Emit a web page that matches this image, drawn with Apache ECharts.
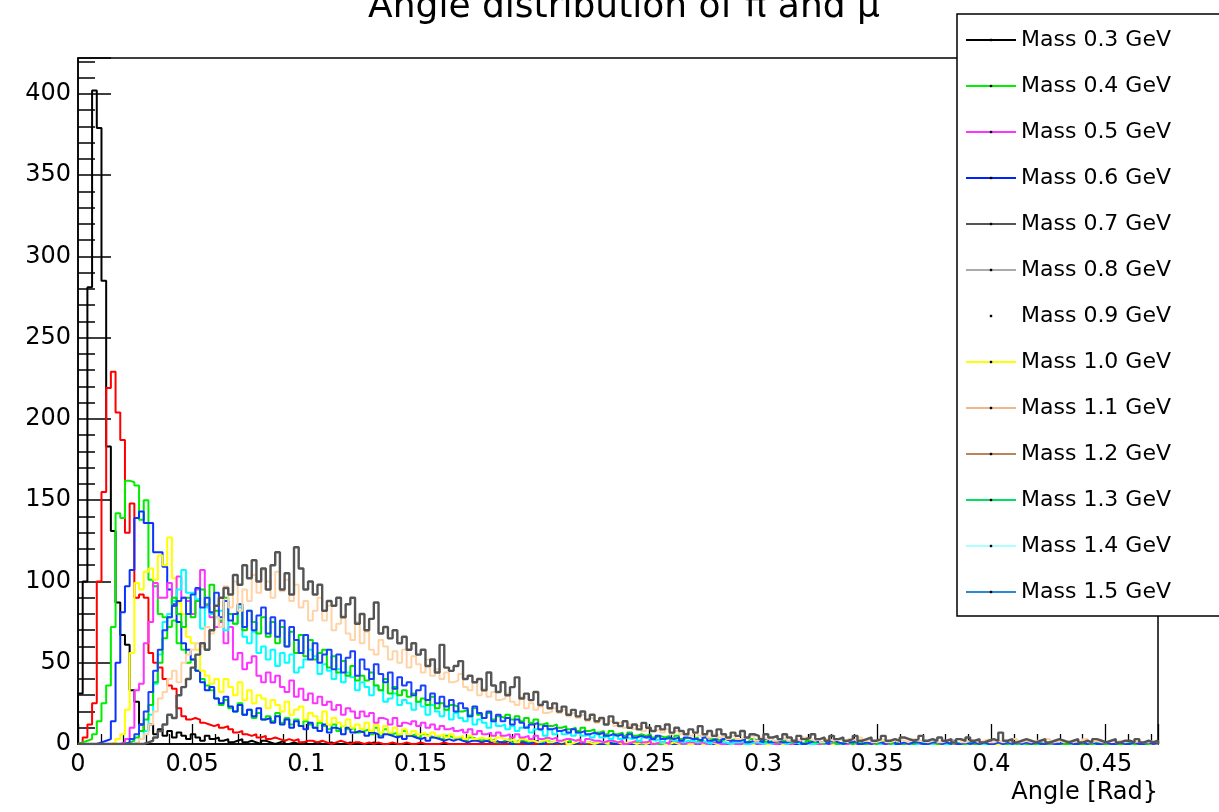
<!DOCTYPE html>
<html>
<head>
<meta charset="utf-8">
<script src="https://cdn.jsdelivr.net/npm/echarts@6/dist/echarts.min.js"></script>
<style>
html,body{margin:0;padding:0;background:#fff;}
#chart{width:1219px;height:812px;}
</style>
</head>
<body>
<div id="chart"></div>
<script>
// ---- data ----
const titleText = 'Angle distribution of \u03c0 and \u03bc';
const xAxisName = 'Angle [Rad}';
const nBins = 230;
const xMax = 0.473;
const yMax = 422;

const legendNames = ['Mass 0.3 GeV','Mass 0.4 GeV','Mass 0.5 GeV','Mass 0.6 GeV','Mass 0.7 GeV','Mass 0.8 GeV','Mass 0.9 GeV','Mass 1.0 GeV','Mass 1.1 GeV','Mass 1.2 GeV','Mass 1.3 GeV','Mass 1.4 GeV','Mass 1.5 GeV'];
const legendColors = ['#000000','#00ee00','#ff33ff','#0022ff','#555555','#aaaaaa','#ffffff','#ffff00','#f0b888','#b8865a','#00e060','#aaffff','#2a8ad0'];

const hBlack = [31,100,281,402,379,285,183,131,87,67,
61,33,26,12,8,12,6,9,5,8,
4,7,5,3,6,4,2,5,3,4,
2,3,1,2,3,1,2,1,0,2,
1,0,1,2,0,1,0,1,0,0,
1,0,0,1,0,0,0,1,0,0,
0,0,1,0,0,0,0,0,0,0,
0,0,0,0,0,0,0,0,0,0,
0,0,0,0,0,0,0,0,0,0,
0,0,0,0,0,0,0,0,0,0,
0,0,0,0,0,0,0,0,0,0,
0,0,0,0,0,0,0,0,0,0,
0,0,0,0,0,0,0,0,0,0,
0,0,0,0,0,0,0,0,0,0,
0,0,0,0,0,0,0,0,0,0,
0,0,0,0,0,0,0,0,0,0,
0,0,0,0,0,0,0,0,0,0,
0,0,0,0,0,0,0,0,0,0,
0,0,0,0,0,0,0,0,0,0,
0,0,0,0,0,0,0,0,0,0,
0,0,0,0,0,0,0,0,0,0,
0,0,0,0,0,0,0,0,0,0,
0,0,0,0,0,0,0,0,0,0];

const hRed = [1,4,12,25,100,155,219,229,204,187,
130,148,90,92,90,56,50,47,40,36,
34,22,17,15,16,15,13,12,11,12,
10,11,9,7,8,6,5,6,4,5,
3,4,3,2,3,2,3,1,2,2,
1,2,1,0,1,2,1,0,1,1,
0,1,0,1,0,0,1,0,0,1,
0,0,1,0,0,0,0,1,0,0,
0,0,0,0,0,0,0,0,0,0,
0,0,0,0,0,0,0,0,0,0,
0,0,0,0,0,0,0,0,0,0,
0,0,0,0,0,0,0,0,0,0,
0,0,0,0,0,0,0,0,0,0,
0,0,0,0,0,0,0,0,0,0,
0,0,0,0,0,0,0,0,0,0,
0,0,0,0,0,0,0,0,0,0,
0,0,0,0,0,0,0,0,0,0,
0,0,0,0,0,0,0,0,0,0,
0,0,0,0,0,0,0,0,0,0,
0,0,0,0,0,0,0,0,0,0,
0,0,0,0,0,0,0,0,0,0,
0,0,0,0,0,0,0,0,0,0,
0,0,0,0,0,0,0,0,0,0];

const hGreen1 = [1,2,3,6,14,25,36,72,142,139,
162,161,159,138,150,101,97,80,78,72,
76,62,58,50,52,45,40,36,33,28,
24,27,22,20,25,18,21,16,19,15,
17,14,19,13,16,12,15,11,14,12,
10,13,11,9,12,8,11,9,10,7,
8,9,6,10,5,9,6,7,5,8,
5,6,4,6,5,4,5,3,5,4,
3,4,2,4,3,2,3,2,3,1,
2,3,1,2,2,1,2,1,0,2,
1,1,0,1,2,0,1,0,1,0,
1,0,0,1,0,1,0,0,1,0,
0,1,0,0,0,1,0,0,0,0,
0,0,1,0,0,0,0,0,1,0,
0,0,0,0,0,1,0,0,0,0,
0,1,0,0,0,0,0,0,0,0,
0,0,0,0,1,0,0,0,0,0,
0,0,0,0,0,0,0,1,0,0,
0,0,0,0,0,0,0,0,0,0,
0,0,1,0,0,0,0,0,0,0,
0,0,0,0,0,0,0,0,0,0,
0,0,0,0,0,0,1,0,0,0,
0,0,0,0,0,0,0,0,0,0];

const hBlue1 = [0,0,0,0,1,2,3,14,50,81,
97,107,139,143,136,136,118,118,109,95,
86,75,62,58,52,45,38,33,35,28,
25,29,23,20,24,18,21,17,22,15,
16,13,17,12,15,10,14,11,9,13,
10,8,12,7,10,9,6,10,7,8,
7,5,7,6,4,6,5,4,5,3,
5,4,3,4,2,4,3,2,3,2,
3,2,1,2,2,1,2,1,2,1,
1,2,0,1,1,0,1,2,0,1,
0,1,0,1,0,0,1,0,1,0,
0,0,1,0,0,1,0,0,0,1,
0,0,0,1,0,0,0,0,1,0,
0,0,0,0,0,0,1,0,0,0,
0,1,0,0,0,0,0,0,0,0,
0,0,0,0,1,0,0,0,0,0,
0,0,0,0,0,0,0,0,1,0,
0,0,0,0,0,0,0,0,0,0,
0,0,1,0,0,0,0,0,0,0,
0,0,0,0,0,0,0,0,0,0,
0,0,0,0,0,1,0,0,0,0,
0,0,0,0,0,0,0,0,0,0,
0,0,0,0,0,0,0,0,0,0];

const hYellow = [0,0,0,0,0,0,0,1,3,6,
21,56,99,95,106,108,101,116,110,127,
102,87,80,66,62,58,45,42,37,40,
32,40,35,30,38,27,33,25,30,28,
22,27,24,20,26,18,21,23,15,19,
17,14,20,12,16,13,11,15,10,12,
9,13,8,12,7,11,7,10,6,9,
6,8,6,7,5,7,5,6,4,6,
4,5,3,5,3,4,3,4,2,4,
3,2,3,1,3,2,2,1,2,3,
1,2,1,2,0,1,2,1,1,0,
1,1,0,2,1,0,1,1,0,1,
0,1,0,1,0,0,1,0,1,0,
0,1,0,0,1,0,0,1,0,0,
1,0,0,0,1,0,0,0,1,0,
0,0,1,0,0,0,0,1,0,0,
0,1,0,0,0,0,1,0,0,0,
0,0,0,1,0,0,0,0,0,1,
0,0,0,0,0,1,0,0,0,0,
1,0,0,0,0,0,0,1,0,0,
0,0,0,1,0,0,0,0,0,0,
0,0,0,0,0,0,1,0,0,0,
0,1,0,0,0,0,0,0,0,0];

const hMagenta = [0,0,0,0,0,0,0,0,0,1,
3,10,33,37,62,75,99,90,90,99,
85,103,90,88,80,95,107,85,78,72,
75,62,72,52,56,46,50,54,42,38,
44,38,42,35,32,39,29,34,27,31,
25,29,24,26,21,24,18,22,20,16,
20,17,19,13,16,15,12,16,11,13,
12,14,11,13,10,12,9,11,9,10,
8,9,7,9,6,8,6,7,5,7,
5,6,4,6,4,5,3,5,3,4,
3,4,2,3,3,2,3,1,3,2,
2,1,2,2,1,2,0,1,2,1,
1,2,0,1,1,0,2,1,0,1,
1,0,1,0,1,1,0,0,1,0,
0,1,0,1,0,0,1,0,0,1,
0,0,1,0,0,1,0,0,0,0,
1,0,0,0,1,0,0,0,0,1,
0,0,0,1,0,0,0,0,0,0,
0,0,1,0,0,0,0,0,1,0,
0,0,0,0,0,1,0,0,0,0,
0,1,0,0,0,0,0,0,0,0,
0,0,0,0,1,0,0,0,0,0,
0,0,0,0,0,0,0,1,0,0];

const hCyan = [0,0,0,0,0,0,0,0,0,0,
0,0,1,3,8,18,37,55,75,80,
88,95,107,93,93,89,71,84,80,78,
82,70,80,74,84,66,62,69,56,60,
52,58,48,56,50,55,44,47,52,58,
54,43,49,45,40,46,38,44,41,33,
38,35,30,36,33,26,28,31,24,27,
25,21,26,23,18,24,20,17,21,15,
19,16,14,18,12,15,13,10,14,11,
12,9,11,8,10,11,7,9,8,5,
9,6,8,6,7,5,7,5,6,4,
6,4,5,3,5,3,4,3,4,2,
4,3,2,3,1,3,2,2,1,2,
2,1,2,1,0,2,1,1,0,1,
1,2,0,1,1,0,1,0,2,1,
0,1,1,0,1,0,0,1,0,1,
1,0,0,1,0,1,0,0,1,0,
0,1,0,0,0,1,0,0,0,1,
0,0,1,0,0,0,1,0,0,0,
1,0,0,0,0,1,0,0,0,0,
0,0,1,0,0,0,0,1,0,0,
0,0,0,0,1,0,0,0,0,0,
0,1,0,0,0,0,0,0,1,0];

const hGreen2 = [0,0,0,0,0,0,0,0,0,0,
1,2,4,8,15,24,38,50,65,78,
90,80,72,90,78,88,95,86,98,82,
76,90,80,74,86,70,82,75,68,78,
66,75,62,72,60,69,56,67,54,64,
52,56,58,47,54,44,51,42,48,39,
42,39,44,36,33,40,31,35,30,33,
29,31,26,28,24,29,22,25,21,24,
23,20,21,17,22,18,16,19,15,17,
16,18,15,17,14,16,13,15,12,13,
11,12,10,11,9,10,8,10,8,9,
7,8,6,8,6,7,5,7,5,6,
5,6,4,5,4,5,3,5,3,4,
3,4,2,4,3,3,2,3,2,3,
2,3,1,3,2,2,1,2,1,2,
2,1,2,1,0,2,1,1,0,2,
1,0,1,1,0,1,2,0,1,0,
1,1,0,1,0,0,1,0,1,0,
0,1,0,0,1,0,1,0,0,1,
0,0,1,0,0,1,0,0,1,0,
1,0,0,0,1,0,0,1,0,0,
0,1,0,0,0,0,1,0,0,0,
0,0,0,1,0,0,0,0,1,0];

const hBlue2 = [0,0,0,0,0,0,0,0,0,0,
1,3,6,12,20,32,45,58,70,78,
85,88,90,80,92,96,84,90,81,93,
78,88,76,80,86,72,82,70,79,84,
68,78,66,76,60,72,64,56,67,52,
62,50,55,58,46,55,44,53,57,42,
52,46,40,49,43,38,44,34,41,36,
38,30,33,36,27,31,25,29,23,27,
20,25,22,17,23,19,16,20,14,18,
14,16,12,15,13,10,12,13,9,11,
9,10,8,9,7,9,7,8,6,7,
6,7,5,6,5,6,4,6,4,5,
4,5,3,5,3,4,3,4,2,4,
3,3,2,4,2,3,1,3,2,2,
2,3,1,2,2,1,3,1,2,1,
1,2,1,2,0,1,2,1,1,0,
2,1,0,1,1,2,0,1,0,1,
1,0,1,2,0,1,0,1,1,0,
0,1,1,0,1,0,2,0,1,0,
1,0,1,0,0,1,0,1,0,1,
0,1,0,1,0,0,1,0,0,1,
1,0,0,1,0,1,0,0,1,0,
0,1,0,0,1,0,0,1,0,1];

const hPeach = [0,0,0,0,0,0,0,0,0,0,
0,0,1,3,6,12,20,28,32,40,
45,38,50,55,58,62,60,72,68,78,
72,97,84,100,82,95,88,104,93,107,
100,90,106,94,101,88,98,84,88,76,
82,90,76,85,70,74,79,68,64,75,
62,69,58,55,64,60,52,57,50,58,
47,54,49,44,52,42,46,40,44,38,
39,43,35,33,38,30,34,29,32,27,
28,31,26,24,29,22,25,21,23,19,
20,22,19,21,17,19,16,18,14,16,
13,15,12,14,11,13,10,12,9,11,
8,10,8,9,7,9,6,8,6,7,
5,7,5,6,4,6,4,5,3,5,
3,4,3,5,2,4,3,4,2,3,
4,2,3,2,4,3,2,3,1,3,
2,3,2,1,3,2,4,2,3,1,
2,3,1,2,3,2,1,3,2,2,
1,2,3,1,2,2,1,3,1,2,
2,1,2,3,1,2,1,2,1,3,
1,2,1,2,2,1,3,1,2,1,
2,1,2,1,3,1,2,1,1,2,
1,2,1,2,1,2,1,1,2,1];

const hDarkGray = [0,0,0,0,0,0,0,0,0,0,
0,0,0,0,1,2,4,8,12,18,
16,30,35,40,47,55,62,58,70,85,
90,96,92,104,98,110,102,113,100,108,
95,110,118,95,105,92,121,108,95,100,
92,98,82,88,85,90,78,86,90,74,
80,70,77,87,68,72,65,70,62,66,
58,62,55,58,48,52,44,61,47,45,
48,51,40,42,38,40,33,44,36,32,
38,30,35,41,28,31,27,32,24,26,
22,25,20,23,18,21,17,20,15,18,
14,16,12,17,13,11,14,10,12,9,
13,10,8,11,9,12,7,10,8,6,
9,7,11,6,8,5,9,6,4,7,
5,8,4,6,5,3,6,4,5,3,
6,4,2,5,3,4,6,3,4,2,
5,3,4,2,3,5,2,3,4,2,
3,5,2,3,2,4,3,2,3,5,
2,3,2,4,2,3,1,3,2,4,
2,3,1,2,3,2,7,2,3,1,
2,3,2,1,2,3,1,2,3,2,
1,2,3,1,2,1,3,2,1,2,
3,1,2,2,1,3,1,2,1,2];

// plotted histograms: [name, values, color, width]
const plotted = [
  ['h 0.3 (black)', hBlack, '#000000', 2],
  ['h red', hRed, '#ff0000', 2],
  ['h green', hGreen1, '#00ee00', 2],
  ['h blue', hBlue1, '#0a32ff', 2],
  ['h yellow', hYellow, '#ffff00', 2],
  ['h magenta', hMagenta, '#ff33ff', 2],
  ['h cyan', hCyan, '#00ffff', 2],
  ['h green 2', hGreen2, '#00e400', 2],
  ['h blue 2', hBlue2, '#1a40ff', 2],
  ['h peach', hPeach, '#ffd3a6', 2],
  ['h dark gray', hDarkGray, '#555555', 2.4]
];

function histPoints(values) {
  const w = xMax / nBins;
  const pts = [[0, 0]];
  values.forEach((v, i) => pts.push([i * w, v]));
  pts.push([values.length * w, values[values.length - 1]]);
  pts.push([values.length * w, 0]);
  return pts;
}

const FONT = 'DejaVu Sans';
const series = [];
plotted.forEach(p => {
  series.push({
    name: p[0], type: 'line', step: 'end', symbol: 'none', silent: true,
    data: histPoints(p[1]), color: p[2],
    lineStyle: { color: p[2], width: p[3] }
  });
});
legendNames.forEach((n, i) => {
  series.push({
    name: n, type: 'line', data: [], symbol: 'rect', color: legendColors[i],
    lineStyle: { color: legendColors[i], width: 1.8 }
  });
});

const chart = echarts.init(document.getElementById('chart'), null, { renderer: 'canvas' });
chart.setOption({
  animation: false,
  backgroundColor: '#ffffff',
  title: {
    text: titleText, left: 619, top: -15, textAlign: 'center',
    textStyle: { fontFamily: FONT, fontSize: 36, fontWeight: 'normal', color: '#000' }
  },
  legend: {
    orient: 'vertical', left: 957, top: 14,
    padding: [15, 80, 13, 8], itemGap: 24, itemWidth: 50, itemHeight: 3,
    backgroundColor: '#ffffff', borderColor: '#000', borderWidth: 1.5,
    selectedMode: false, z: 10,
    itemStyle: { color: '#000' },
    textStyle: { fontFamily: FONT, fontSize: 22, color: '#000', lineHeight: 22 },
    data: legendNames
  },
  grid: { left: 78, right: 61, top: 58, bottom: 68, show: true, borderColor: '#000', borderWidth: 1.5, backgroundColor: 'transparent' },
  xAxis: {
    type: 'value', min: 0, max: xMax, interval: 0.05,
    name: xAxisName, nameLocation: 'end', nameGap: 0,
    nameTextStyle: { fontFamily: FONT, fontSize: 24, color: '#000', align: 'right', verticalAlign: 'top', padding: [37, 0, 0, 0] },
    axisLine: { show: true, lineStyle: { color: '#000', width: 1.5 } },
    axisTick: { show: true, inside: true, length: 20, lineStyle: { color: '#000', width: 1.3 } },
    minorTick: { show: true, splitNumber: 5, length: 10, lineStyle: { color: '#000', width: 1.3 } },
    splitLine: { show: false },
    axisLabel: { fontFamily: FONT, fontSize: 24, color: '#000', margin: 9, showMaxLabel: false,
      formatter: v => String(+v.toFixed(3)) }
  },
  yAxis: {
    type: 'value', min: 0, max: yMax, interval: 50,
    axisLine: { show: true, lineStyle: { color: '#000', width: 1.5 } },
    axisTick: { show: true, inside: true, length: 33, lineStyle: { color: '#000', width: 1.5 } },
    minorTick: { show: true, splitNumber: 5, length: 17, lineStyle: { color: '#000', width: 1.5 } },
    splitLine: { show: false },
    axisLabel: { fontFamily: FONT, fontSize: 24, color: '#000', margin: 7, showMaxLabel: false }
  },
  series: series
});
</script>
</body>
</html>
